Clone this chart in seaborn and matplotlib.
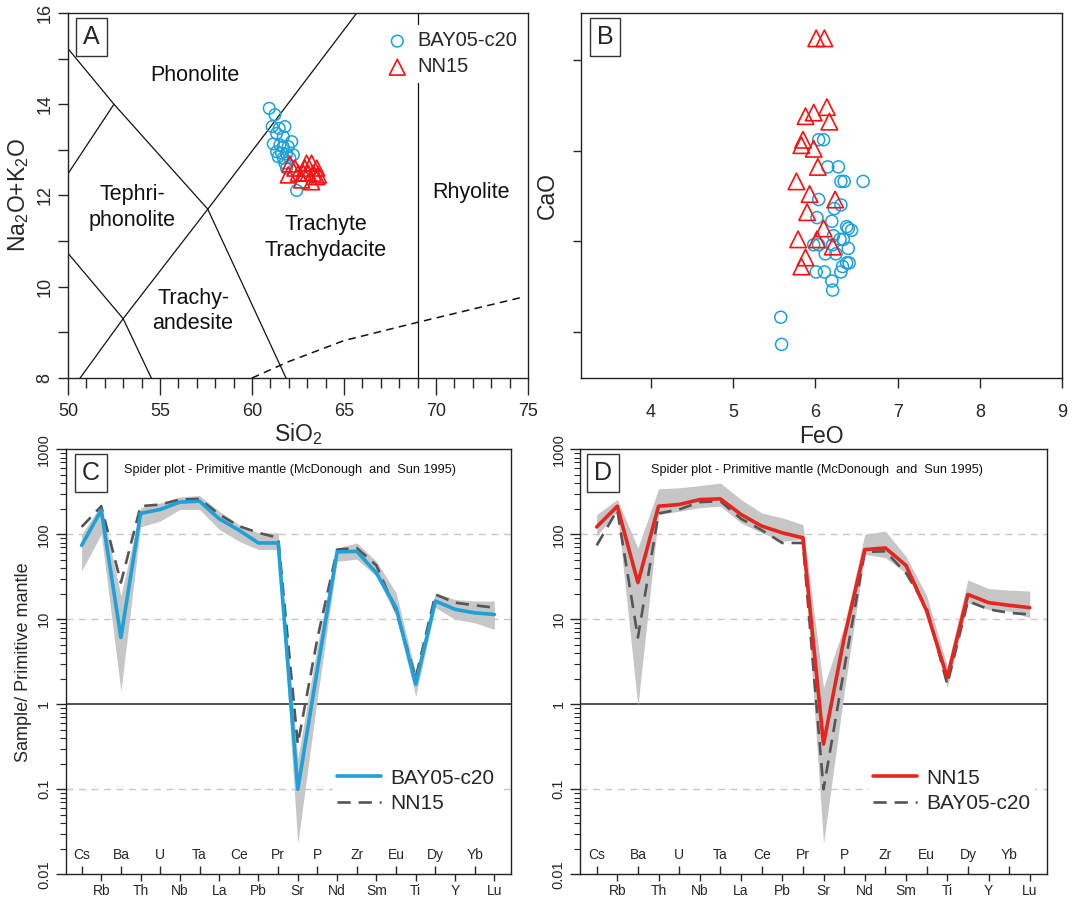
import numpy as np
import pandas as pd
import matplotlib
matplotlib.use("Agg")
import matplotlib.pyplot as plt
import seaborn as sns

sns.set_style("ticks")
plt.rcParams['font.family'] = ['Liberation Sans', 'DejaVu Sans']
plt.rcParams['mathtext.default'] = 'regular'

BLUE = '#1ea0d8'
RED = '#ff1010'
LINE_RED = '#e5261f'
GREY_BAND = '#c6c6c6'
DASH_GREY = '#555555'

# ---- panel A : TAS data ----
bay_sio2 = [60.94, 61.25, 61.10, 61.48, 61.79, 61.34, 61.70, 62.16, 61.16, 61.52, 61.70,
            61.97, 61.34, 61.61, 61.88, 62.25, 61.43, 61.70, 62.06, 61.79, 61.88, 62.43]
bay_alk = [13.91, 13.77, 13.51, 13.47, 13.51, 13.36, 13.29, 13.18, 13.13, 13.11, 13.07,
           13.07, 12.96, 12.93, 12.91, 12.89, 12.85, 12.82, 12.82, 12.71, 12.60, 12.11]
nn_sio2 = [62.06, 62.34, 62.97, 63.24, 63.52, 61.97, 62.52, 62.79, 63.06, 63.33, 63.61,
           62.70, 63.24, 63.52, 62.88]
nn_alk = [12.69, 12.60, 12.71, 12.71, 12.60, 12.45, 12.49, 12.49, 12.49, 12.49, 12.45,
          12.34, 12.30, 12.41, 12.60]

# TAS field boundaries
tas_solid = [
    [(48.4, 16.0), (52.5, 14.0), (57.6, 11.7), (63.0, 7.0)],
    [(48.4, 11.5), (52.5, 14.0)],
    [(48.4, 11.5), (53.0, 9.3), (57.0, 5.9)],
    [(49.4, 7.3), (53.0, 9.3), (57.6, 11.7), (61.0, 13.5), (66.0, 16.16)],
    [(69.0, 8.0), (69.0, 16.0)],
]
tas_dashed = [(60.0, 8.0), (62.0, 8.36), (65.0, 8.82), (69.0, 9.22), (74.8, 9.78)]
tas_labels = ['Phonolite', 'Tephri-\nphonolite', 'Trachyte\nTrachydacite', 'Rhyolite', 'Trachy-\nandesite']
tas_label_xy = [(56.9, 14.62), (53.5, 11.74), (64.0, 11.08), (71.9, 12.07), (56.8, 9.47)]

# ---- panel B : FeO vs CaO ----
bay_feo = [6.04, 6.10, 6.15, 6.28, 6.31, 6.35, 6.58, 6.04, 6.31, 6.23, 6.02, 6.20, 6.38,
           6.40, 6.44, 6.22, 6.30, 6.34, 5.98, 6.04, 6.21, 6.40, 6.12, 6.25, 6.38, 6.41,
           6.33, 6.31, 6.01, 6.11, 6.20, 6.21, 5.58, 5.59]
bay_cao = [2.06, 2.06, 1.91, 1.91, 1.83, 1.83, 1.83, 1.73, 1.70, 1.68, 1.63, 1.61, 1.58,
           1.57, 1.56, 1.53, 1.51, 1.51, 1.48, 1.48, 1.48, 1.46, 1.43, 1.43, 1.38, 1.38,
           1.36, 1.33, 1.33, 1.33, 1.28, 1.23, 1.08, 0.93]
nn_feo = [6.01, 6.11, 5.88, 5.98, 6.14, 6.17, 5.85, 5.83, 5.98, 6.03, 5.77, 5.93, 6.24,
          5.90, 6.10, 5.79, 6.02, 6.21, 5.88, 5.83]
nn_cao = [2.62, 2.62, 2.19, 2.21, 2.24, 2.16, 2.06, 2.03, 2.01, 1.91, 1.83, 1.76, 1.73,
          1.66, 1.57, 1.51, 1.51, 1.47, 1.41, 1.36]

# ---- panels C / D : spider diagrams ----
elements = ['Cs', 'Rb', 'Ba', 'Th', 'U', 'Nb', 'Ta', 'La', 'Ce', 'Pb', 'Pr',
            'Sr', 'P', 'Nd', 'Zr', 'Sm', 'Eu', 'Ti', 'Dy', 'Y', 'Yb', 'Lu']
bay_mean = [74, 192, 6.1, 176, 196, 239, 245, 152, 112, 79, 79,
            0.10, 2.6, 62, 63, 35, 13.7, 1.72, 16.4, 13.1, 11.9, 11.4]
nn_mean = [122, 214, 27, 214, 224, 256, 261, 171, 125, 104, 91,
           0.34, 6.0, 66, 69, 43, 12.5, 2.06, 19.6, 15.7, 14.6, 13.7]
bay_hi = [99, 224, 18.8, 205, 234, 275, 286, 187, 130, 104, 104,
          0.23, 5.0, 69, 79, 48, 20.5, 2.36, 20.5, 17.1, 16.4, 16.4]
bay_lo = [37, 100, 1.43, 122, 143, 196, 196, 114, 83, 66, 66,
          0.023, 1.2, 48, 51, 32, 10.9, 1.25, 13.7, 10.0, 9.1, 7.6]
nn_hi = [170, 257, 69, 342, 352, 374, 400, 257, 178, 156, 130,
         1.57, 8.3, 100, 109, 55, 19, 2.8, 29, 23, 22, 21.5]
nn_lo = [95, 187, 0.95, 170, 187, 205, 214, 136, 104, 83, 87,
         0.023, 1.37, 58, 53, 35, 12, 1.57, 15.7, 13, 12.5, 10.4]

fig = plt.figure(figsize=(10.77, 9), dpi=100)
axA = fig.add_axes([0.0631, 0.5800, 0.4271, 0.4056])
axB = fig.add_axes([0.5392, 0.5803, 0.4472, 0.4049])
axC = fig.add_axes([0.0610, 0.0286, 0.4135, 0.4722])
axD = fig.add_axes([0.5385, 0.0286, 0.4339, 0.4722])


def panel_letter(ax, letter, x, y):
    ax.text(x, y, letter, transform=ax.transAxes, fontsize=18, ha='center', va='center',
            bbox=dict(boxstyle='square,pad=0.28', fc='white', ec='#333333', lw=1.0), zorder=6)


def box_spines(ax):
    for s in ax.spines.values():
        s.set_visible(True)
        s.set_color('#222222')
        s.set_linewidth(1.0)


# ---------------- A ----------------
ax = axA
for seg in tas_solid:
    xs, ys = zip(*seg)
    ax.plot(xs, ys, color='#111111', lw=0.9, zorder=1)
xs, ys = zip(*tas_dashed)
ax.plot(xs, ys, color='#111111', lw=1.1, ls=(0, (5, 3.5)), zorder=1)
for lab, (lx, ly) in zip(tas_labels, tas_label_xy):
    ax.text(lx, ly, lab, ha='center', va='center', fontsize=15.5, linespacing=1.3, color='#111111')

sns.scatterplot(x=bay_sio2, y=bay_alk, ax=ax, marker='o', s=70, facecolors='none',
                edgecolors=BLUE, linewidth=1.1, label='BAY05-c20', zorder=3)
sns.scatterplot(x=nn_sio2, y=nn_alk, ax=ax, marker='^', s=130, facecolors='none',
                edgecolors=RED, linewidth=1.2, label='NN15', zorder=4)
ax.set_xlim(50, 75)
ax.set_ylim(8, 16)
ax.set_xticks(np.arange(50, 76, 5))
ax.set_xticks(np.arange(50, 76, 1), minor=True)
ax.set_yticks(np.arange(8, 17, 2))
ax.set_yticks(np.arange(9, 16, 2), minor=True)
ax.tick_params(axis='x', which='major', length=12, width=1, labelsize=13, direction='out', pad=6)
ax.tick_params(axis='x', which='minor', length=7, width=1, direction='out')
ax.tick_params(axis='y', which='both', length=7, width=1, labelsize=13, direction='out')
for t in ax.get_yticklabels():
    t.set_rotation(90)
    t.set_va('center')
ax.set_xlabel('SiO$_2$', fontsize=16.5, labelpad=1)
ax.set_ylabel('Na$_2$O+K$_2$O', fontsize=16.5, labelpad=4)
leg = ax.legend(loc='upper right', bbox_to_anchor=(0.99, 0.966), borderaxespad=0,
                fontsize=14.5, frameon=True, framealpha=1, edgecolor='none',
                handlelength=1.0, handletextpad=0.5, labelspacing=0.35, borderpad=0.3)
box_spines(ax)
panel_letter(ax, 'A', 0.051, 0.933)

# ---------------- B ----------------
ax = axB
sns.scatterplot(x=bay_feo, y=bay_cao, ax=ax, marker='o', s=75, facecolors='none',
                edgecolors=BLUE, linewidth=1.1, zorder=3)
sns.scatterplot(x=nn_feo, y=nn_cao, ax=ax, marker='^', s=140, facecolors='none',
                edgecolors=RED, linewidth=1.2, zorder=4)
ax.set_xlim(3.15, 9)
ax.set_ylim(0.746, 2.758)
ax.set_xticks(np.arange(4, 10, 1))
ax.set_yticks([1.0, 1.5, 2.0, 2.5])
ax.set_yticklabels([])
ax.tick_params(axis='x', length=7, width=1, labelsize=13, direction='out', pad=12)
ax.tick_params(axis='y', length=6, width=1, direction='out')
ax.set_xlabel('FeO', fontsize=16.5, labelpad=3)
ax.set_ylabel('CaO', fontsize=16.5, labelpad=6)
box_spines(ax)
panel_letter(ax, 'B', 0.0505, 0.934)

# ---------------- C / D ----------------
pos = np.arange(len(elements))


def spider(ax, main, main_lab, main_col, other, other_lab, lo, hi, letter, lx, title_x):
    for yv in (100, 10, 0.1):
        ax.axhline(yv, color='#c8c8c8', lw=1.0, ls=(0, (5, 4)), zorder=0)
    ax.axhline(1, color='#222222', lw=1.1, zorder=1)
    ax.fill_between(pos, lo, hi, color=GREY_BAND, lw=0, zorder=2)
    df = pd.DataFrame({'pos': pos, 'main': main, 'other': other})
    sns.lineplot(data=df, x='pos', y='other', ax=ax, color=DASH_GREY, lw=1.9,
                 ls=(0, (5, 3)), label=other_lab, zorder=3)
    sns.lineplot(data=df, x='pos', y='main', ax=ax, color=main_col, lw=2.6,
                 label=main_lab, zorder=4)
    ax.set_yscale('log')
    ax.set_ylim(0.01, 1000)
    ax.set_xlim(-0.81, 21.85)
    ax.set_yticks([0.01, 0.1, 1, 10, 100, 1000])
    ax.set_yticklabels(['0.01', '0.1', '1', '10', '100', '1000'], rotation=90, va='center')
    ax.tick_params(axis='y', which='major', length=7, width=1, labelsize=10.5, direction='out')
    ax.tick_params(axis='y', which='minor', length=4, width=0.8, direction='out')
    odd = pos[1::2]
    even = pos[0::2]
    ax.set_xticks(odd)
    ax.set_xticklabels(elements[1::2])
    ax.set_xticks(even, minor=True)
    ax.set_xticklabels(elements[0::2], minor=True)
    ax.tick_params(axis='x', which='major', direction='out', length=5, width=1, labelsize=10, pad=2)
    ax.tick_params(axis='x', which='minor', direction='in', length=6, width=1, labelsize=10, pad=-19)
    ax.set_xlabel('')
    ax.set_ylabel('')
    handles, labels = ax.get_legend_handles_labels()
    ax.legend(handles[::-1], labels[::-1], loc='lower right', bbox_to_anchor=(0.995, 0.11),
              fontsize=15, frameon=True, framealpha=1, edgecolor='none', handlelength=2.1,
              handletextpad=0.45, labelspacing=0.3, borderpad=0.2)
    box_spines(ax)
    ax.text(title_x, 0.951, 'Spider plot - Primitive mantle (McDonough  and  Sun 1995)',
            transform=ax.transAxes, fontsize=9.1, ha='left', va='center', color='#111111')
    panel_letter(ax, letter, lx, 0.944)


spider(axC, bay_mean, 'BAY05-c20', BLUE, nn_mean, 'NN15', bay_lo, bay_hi, 'C', 0.057, 0.131)
spider(axD, nn_mean, 'NN15', LINE_RED, bay_mean, 'BAY05-c20', nn_lo, nn_hi, 'D', 0.049, 0.152)
axC.set_ylabel('Sample/ Primitive mantle', fontsize=13, labelpad=4)

fig.savefig('out.png', dpi=100)
